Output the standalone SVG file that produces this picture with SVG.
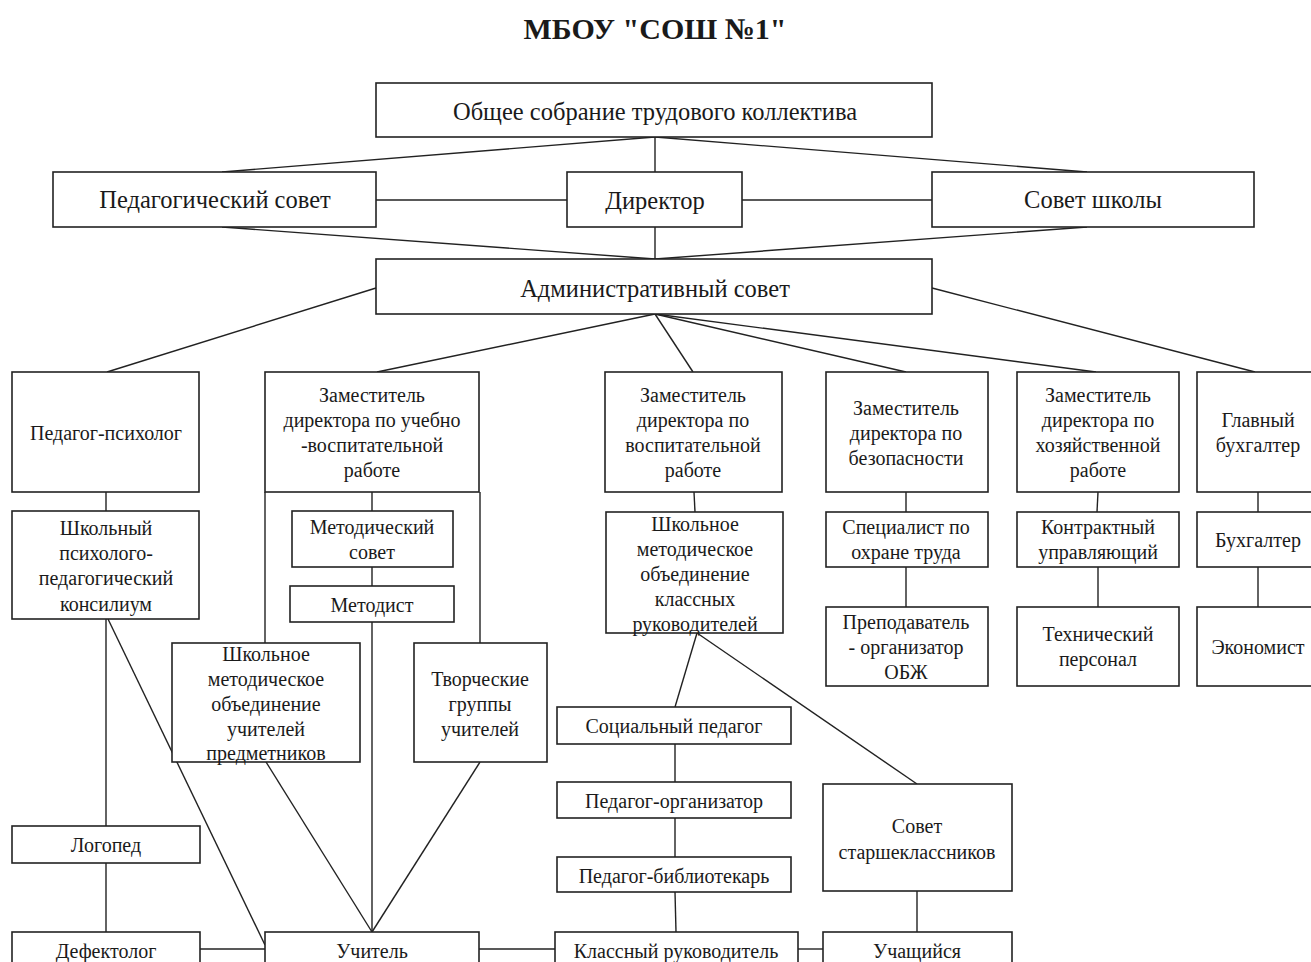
<svg xmlns="http://www.w3.org/2000/svg" width="1311" height="962" viewBox="0 0 1311 962">
<style>
rect{fill:#fff;stroke:#222;stroke-width:1.6}
text{font-family:"Liberation Serif","Times New Roman",serif;fill:#1a1a1a;text-anchor:middle;dominant-baseline:central}
.t{font-size:24.5px}
.s{font-size:20px}
#connectors line{stroke:#222;stroke-width:1.4;fill:none}
</style>
<rect x="0" y="0" width="1311" height="962" style="fill:#fff;stroke:none"/>
<text x="655" y="28" style="font-size:30px;font-weight:bold">МБОУ "СОШ №1"</text>
<g id="connectors">
<line x1="655" y1="137" x2="222" y2="172"/>
<line x1="655" y1="137" x2="1087" y2="172"/>
<line x1="655" y1="137" x2="655" y2="172"/>
<line x1="376" y1="200" x2="567" y2="200"/>
<line x1="742" y1="200" x2="932" y2="200"/>
<line x1="222" y1="227" x2="655" y2="259"/>
<line x1="1087" y1="227" x2="655" y2="259"/>
<line x1="655" y1="227" x2="655" y2="259"/>
<line x1="376" y1="288" x2="107" y2="372"/>
<line x1="932" y1="288" x2="1255" y2="372"/>
<line x1="655" y1="314" x2="377" y2="372"/>
<line x1="655" y1="314" x2="693" y2="372"/>
<line x1="655" y1="314" x2="906" y2="372"/>
<line x1="655" y1="314" x2="1096" y2="372"/>
<line x1="106" y1="492" x2="106" y2="511"/>
<line x1="372" y1="492" x2="372" y2="511"/>
<line x1="372" y1="567" x2="372" y2="586"/>
<line x1="372" y1="622" x2="372" y2="932"/>
<line x1="265" y1="492" x2="265" y2="643"/>
<line x1="480" y1="492" x2="480" y2="643"/>
<line x1="106" y1="619" x2="106" y2="826"/>
<line x1="108" y1="619" x2="265" y2="945"/>
<line x1="106" y1="863" x2="106" y2="932"/>
<line x1="266" y1="762" x2="372" y2="932"/>
<line x1="480" y1="762" x2="372" y2="932"/>
<line x1="200" y1="949" x2="265" y2="949"/>
<line x1="479" y1="949" x2="555" y2="949"/>
<line x1="798" y1="949" x2="823" y2="949"/>
<line x1="694" y1="492" x2="695" y2="512"/>
<line x1="906" y1="492" x2="906" y2="512"/>
<line x1="906" y1="567" x2="906" y2="607"/>
<line x1="1098" y1="492" x2="1097" y2="512"/>
<line x1="1098" y1="567" x2="1098" y2="607"/>
<line x1="1258" y1="492" x2="1258" y2="512"/>
<line x1="1258" y1="567" x2="1258" y2="607"/>
<line x1="697" y1="633" x2="675" y2="707"/>
<line x1="697" y1="633" x2="917" y2="784"/>
<line x1="675" y1="744" x2="675" y2="782"/>
<line x1="675" y1="818" x2="675" y2="857"/>
<line x1="675" y1="892" x2="676" y2="932"/>
<line x1="917" y1="891" x2="917" y2="932"/>
</g>
<g id="n-obshee"><rect x="376" y="83" width="556" height="54"/><text class="t" x="655" y="111">Общее собрание трудового коллектива</text></g>
<g id="n-pedsovet"><rect x="53" y="172" width="323" height="55"/><text class="t" x="215" y="199">Педагогический совет</text></g>
<g id="n-director"><rect x="567" y="172" width="175" height="55"/><text class="t" x="655" y="200">Директор</text></g>
<g id="n-sovet-shkoly"><rect x="932" y="172" width="322" height="55"/><text class="t" x="1093" y="199">Совет школы</text></g>
<g id="n-admin"><rect x="376" y="259" width="556" height="55"/><text class="t" x="655" y="288">Административный совет</text></g>
<g id="n-psych"><rect x="12" y="372" width="187" height="120"/><text class="s" x="106" y="433">Педагог-психолог</text></g>
<g id="n-zam-uvr"><rect x="265" y="372" width="214" height="120"/><text class="s" x="372" y="395">Заместитель</text><text class="s" x="372" y="420">директора по учебно</text><text class="s" x="372" y="445">-воспитательной</text><text class="s" x="372" y="470">работе</text></g>
<g id="n-zam-vr"><rect x="605" y="372" width="177" height="120"/><text class="s" x="693" y="395">Заместитель</text><text class="s" x="693" y="420">директора по</text><text class="s" x="693" y="445">воспитательной</text><text class="s" x="693" y="470">работе</text></g>
<g id="n-zam-bez"><rect x="826" y="372" width="162" height="120"/><text class="s" x="906" y="408">Заместитель</text><text class="s" x="906" y="433">директора по</text><text class="s" x="906" y="458">безопасности</text></g>
<g id="n-zam-hoz"><rect x="1017" y="372" width="162" height="120"/><text class="s" x="1098" y="395">Заместитель</text><text class="s" x="1098" y="420">директора по</text><text class="s" x="1098" y="445">хозяйственной</text><text class="s" x="1098" y="470">работе</text></g>
<g id="n-glbuh"><rect x="1197" y="372" width="130" height="120"/><text class="s" x="1258" y="420">Главный</text><text class="s" x="1258" y="445">бухгалтер</text></g>
<g id="n-konsilium"><rect x="12" y="511" width="187" height="108"/><text class="s" x="106" y="528">Школьный</text><text class="s" x="106" y="553">психолого-</text><text class="s" x="106" y="578">педагогический</text><text class="s" x="106" y="604">консилиум</text></g>
<g id="n-metsovet"><rect x="292" y="511" width="161" height="56"/><text class="s" x="372" y="527">Методический</text><text class="s" x="372" y="552">совет</text></g>
<g id="n-metodist"><rect x="290" y="586" width="164" height="36"/><text class="s" x="372" y="605">Методист</text></g>
<g id="n-shmo-uch"><rect x="172" y="643" width="188" height="119"/><text class="s" x="266" y="654">Школьное</text><text class="s" x="266" y="679">методическое</text><text class="s" x="266" y="704">объединение</text><text class="s" x="266" y="729">учителей</text><text class="s" x="266" y="753">предметников</text></g>
<g id="n-tvorch"><rect x="414" y="643" width="133" height="119"/><text class="s" x="480" y="679">Творческие</text><text class="s" x="480" y="704">группы</text><text class="s" x="480" y="729">учителей</text></g>
<g id="n-shmo-kl"><rect x="606" y="512" width="177" height="121"/><text class="s" x="695" y="524">Школьное</text><text class="s" x="695" y="549">методическое</text><text class="s" x="695" y="574">объединение</text><text class="s" x="695" y="599">классных</text><text class="s" x="695" y="624">руководителей</text></g>
<g id="n-spec-ot"><rect x="826" y="512" width="162" height="55"/><text class="s" x="906" y="527">Специалист по</text><text class="s" x="906" y="552">охране труда</text></g>
<g id="n-obzh"><rect x="826" y="607" width="162" height="79"/><text class="s" x="906" y="622">Преподаватель</text><text class="s" x="906" y="647">- организатор</text><text class="s" x="906" y="672">ОБЖ</text></g>
<g id="n-kontr"><rect x="1017" y="512" width="162" height="55"/><text class="s" x="1098" y="527">Контрактный</text><text class="s" x="1098" y="552">управляющий</text></g>
<g id="n-teh"><rect x="1017" y="607" width="162" height="79"/><text class="s" x="1098" y="634">Технический</text><text class="s" x="1098" y="659">персонал</text></g>
<g id="n-buh"><rect x="1197" y="512" width="130" height="55"/><text class="s" x="1258" y="540">Бухгалтер</text></g>
<g id="n-ekon"><rect x="1197" y="607" width="130" height="79"/><text class="s" x="1258" y="647">Экономист</text></g>
<g id="n-logoped"><rect x="12" y="826" width="188" height="37"/><text class="s" x="106" y="845">Логопед</text></g>
<g id="n-soc"><rect x="557" y="707" width="234" height="37"/><text class="s" x="674" y="726">Социальный педагог</text></g>
<g id="n-pedorg"><rect x="557" y="782" width="234" height="36"/><text class="s" x="674" y="801">Педагог-организатор</text></g>
<g id="n-pedbib"><rect x="557" y="857" width="234" height="35"/><text class="s" x="674" y="876">Педагог-библиотекарь</text></g>
<g id="n-sovet-st"><rect x="823" y="784" width="189" height="107"/><text class="s" x="917" y="826">Совет</text><text class="s" x="917" y="852">старшеклассников</text></g>
<g id="n-defekt"><rect x="12" y="932" width="188" height="45"/><text class="s" x="106" y="951">Дефектолог</text></g>
<g id="n-uchitel"><rect x="265" y="932" width="214" height="45"/><text class="s" x="372" y="951">Учитель</text></g>
<g id="n-klruk"><rect x="555" y="932" width="243" height="45"/><text class="s" x="676" y="951">Классный руководитель</text></g>
<g id="n-uchash"><rect x="823" y="932" width="189" height="45"/><text class="s" x="917" y="951">Учащийся</text></g>
</svg>
